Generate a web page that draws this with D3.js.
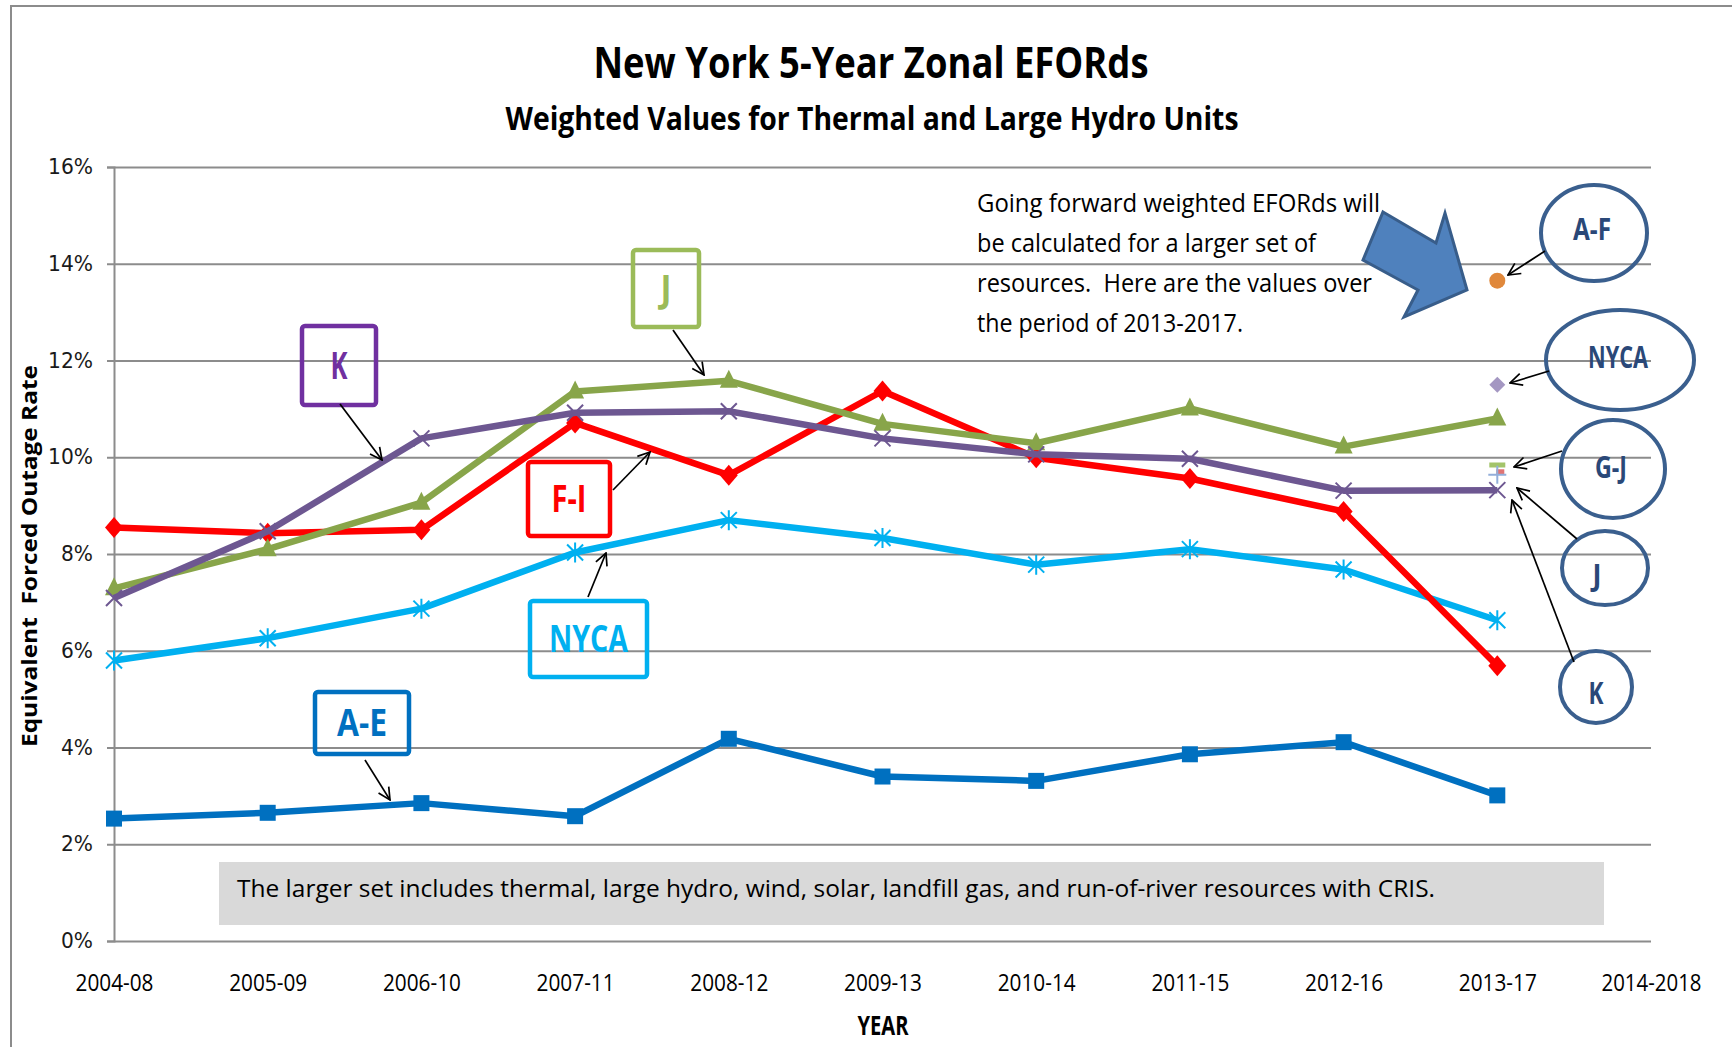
<!DOCTYPE html>
<html>
<head>
<meta charset="utf-8">
<script src="https://cdn.jsdelivr.net/npm/d3@7"></script>
<style>
  html, body { margin: 0; padding: 0; background: #fff; }
  svg { display: block; }
  text { white-space: pre; }
</style>
</head>
<body>
<script>
// chart data
const categories = ["2004-08", "2005-09", "2006-10", "2007-11", "2008-12", "2009-13",
                    "2010-14", "2011-15", "2012-16", "2013-17", "2014-2018"];
const yTicks = [0, 2, 4, 6, 8, 10, 12, 14, 16];
const aeValues = [2.53, 2.65, 2.85, 2.58, 4.18, 3.40, 3.31, 3.86, 4.11, 3.01];
const fiValues = [8.55, 8.43, 8.50, 10.71, 9.63, 11.37, 9.99, 9.56, 8.88, 5.69];
const jValues = [7.29, 8.10, 9.06, 11.36, 11.58, 10.69, 10.29, 11.01, 10.22, 10.80];
const kValues = [7.09, 8.47, 10.39, 10.92, 10.95, 10.39, 10.06, 9.97, 9.31, 9.32];
const nycaValues = [5.80, 6.26, 6.87, 8.03, 8.70, 8.33, 7.78, 8.10, 7.68, 6.63];
// larger resource set, 2013-17 only
const newSetNames = ["A-F", "NYCA", "G-J", "J", "K"];
const newSetValues = [13.65, 11.50, 9.84, 9.70, 9.64];

const width = 1732, height = 1047;
const svg = d3.select("body").append("svg")
    .attr("width", width)
    .attr("height", height)
    .style("background-color", "white");

const x = d3.scalePoint().domain(categories).range([114, 1651]);
const y = d3.scaleLinear().domain([0, 16]).range([941, 167]);

const calibri = "'Open Sans', 'DejaVu Sans', sans-serif";

// squeeze Open Sans to the narrow Calibri widths of the original
function label(px, py, str, size, weight, fill, len, anchor) {
    const t = svg.append("text")
        .attr("x", px).attr("y", py)
        .attr("font-family", calibri)
        .attr("font-size", size)
        .attr("font-weight", weight)
        .attr("fill", fill)
        .attr("text-anchor", anchor || "start")
        .text(str);
    if (len) t.attr("textLength", len).attr("lengthAdjust", "spacingAndGlyphs");
    return t;
}

// outer frame
svg.append("path")
    .attr("d", "M11,1047 V6 H1732")
    .attr("fill", "none")
    .attr("stroke", "#8c8c8c")
    .attr("stroke-width", 2);

// titles
label(871, 78, "New York 5-Year Zonal EFORds", 43, "bold", "#000", 555, "middle");
label(872, 130, "Weighted Values for Thermal and Large Hydro Units", 32, "bold", "#000", 733, "middle");

// gridlines
svg.append("g")
    .attr("transform", "translate(114,0)")
    .call(d3.axisLeft(y).tickValues(yTicks).tickSize(-(1651 - 114)).tickFormat(""))
    .call(g => g.select(".domain").remove())
    .selectAll("line")
    .attr("stroke", "#8c8c8c")
    .attr("stroke-width", 2);

// y axis
const yAxis = svg.append("g")
    .attr("transform", "translate(114,0)")
    .call(d3.axisLeft(y).tickValues(yTicks).tickSize(7).tickPadding(14).tickFormat(d => d + "%"));
yAxis.select(".domain").attr("stroke", "#8c8c8c").attr("stroke-width", 2);
yAxis.selectAll(".tick line").attr("stroke", "#8c8c8c").attr("stroke-width", 2);
yAxis.selectAll("text")
    .attr("font-family", "'DejaVu Sans', Verdana, sans-serif")
    .attr("font-size", 21)
    .attr("fill", "#1a1a1a")
    .attr("textLength", d => d >= 10 ? 45 : 32)
    .attr("lengthAdjust", "spacingAndGlyphs");

// x axis labels
const xAxis = svg.append("g")
    .attr("transform", "translate(0,941)")
    .call(d3.axisBottom(x).tickSize(0).tickPadding(34));
xAxis.select(".domain").remove();
xAxis.selectAll("text")
    .attr("font-family", calibri)
    .attr("font-size", 23)
    .attr("fill", "#000")
    .attr("textLength", d => d.length > 7 ? 100 : 78)
    .attr("lengthAdjust", "spacingAndGlyphs");

// axis titles
label(883, 1035, "YEAR", 26, "bold", "#000", 51, "middle");
label(0, 0, "Equivalent  Forced Outage Rate", 22, "bold", "#000", 382, "middle")
    .attr("transform", "translate(37,556) rotate(-90)");

// grey note box
svg.append("rect")
    .attr("x", 219).attr("y", 862)
    .attr("width", 1604 - 219).attr("height", 925 - 862)
    .attr("fill", "#d9d9d9");
label(237, 897, "The larger set includes thermal, large hydro, wind, solar, landfill gas, and run-of-river resources with CRIS.",
      23, "normal", "#000", 1198);

// series
const series = [
    { name: "A-E", values: aeValues, color: "#0070C0", marker: "square" },
    { name: "NYCA", values: nycaValues, color: "#00B0F0", marker: "asterisk" },
    { name: "F-I", values: fiValues, color: "#FF0000", marker: "diamond" },
    { name: "J", values: jValues, color: "#88A54A", marker: "triangle" },
    { name: "K", values: kValues, color: "#6D5791", marker: "x" }
];

const line = d3.line()
    .x((d, i) => x(categories[i]))
    .y(d => y(d));

function drawMarker(g, type, color) {
    if (type === "square") {
        g.append("rect").attr("x", -8).attr("y", -8).attr("width", 16).attr("height", 16).attr("fill", color);
    } else if (type === "diamond") {
        g.append("path").attr("d", "M0,-10.5 L9,0 L0,10.5 L-9,0Z").attr("fill", color);
    } else if (type === "triangle") {
        g.append("path").attr("d", "M0,-11 L9,7 L-9,7Z").attr("fill", color);
    } else if (type === "x") {
        g.append("path").attr("d", "M-8,-8 L8,8 M-8,8 L8,-8")
            .attr("stroke", color).attr("stroke-width", 2).attr("fill", "none");
    } else if (type === "asterisk") {
        g.append("path").attr("d", "M-8,-8 L8,8 M-8,8 L8,-8 M0,-10 L0,10")
            .attr("stroke", color).attr("stroke-width", 2).attr("fill", "none");
    } else if (type === "circle") {
        g.append("circle").attr("r", 8).attr("fill", color);
    } else if (type === "smallDiamond") {
        g.append("path").attr("d", "M0,-8 L8,0 L0,8 L-8,0Z").attr("fill", color);
    } else if (type === "dash") {
        g.append("rect").attr("x", -8).attr("y", -2.5).attr("width", 16).attr("height", 5).attr("fill", color);
    } else if (type === "shortDash") {
        g.append("rect").attr("x", -1).attr("y", -2.5).attr("width", 8).attr("height", 5).attr("fill", color);
    } else if (type === "plus") {
        g.append("path").attr("d", "M-9,0 L9,0 M0,-9 L0,9")
            .attr("stroke", color).attr("stroke-width", 2).attr("fill", "none");
    }
}

series.forEach(s => {
    svg.append("path")
        .datum(s.values)
        .attr("d", line)
        .attr("fill", "none")
        .attr("stroke", s.color)
        .attr("stroke-width", 6.5)
        .attr("stroke-linejoin", "round");
    s.values.forEach((v, i) => {
        const g = svg.append("g").attr("transform", `translate(${x(categories[i])},${y(v)})`);
        drawMarker(g, s.marker, s.color);
    });
});

// single 2013-17 points for the larger set
const newSetStyle = {
    "A-F": { color: "#E0883B", marker: "circle" },
    "NYCA": { color: "#A497C2", marker: "smallDiamond" },
    "G-J": { color: "#A3C46A", marker: "dash" },
    "J": { color: "#E07474", marker: "shortDash" },
    "K": { color: "#93AEDA", marker: "plus" }
};
newSetNames.forEach((n, i) => {
    const g = svg.append("g").attr("transform", `translate(${x("2013-17")},${y(newSetValues[i])})`);
    drawMarker(g, newSetStyle[n].marker, newSetStyle[n].color);
});

// arrowheads
svg.append("defs").append("marker")
    .attr("id", "open")
    .attr("viewBox", "0 0 14 14")
    .attr("refX", 13).attr("refY", 7)
    .attr("markerWidth", 14).attr("markerHeight", 14)
    .attr("markerUnits", "userSpaceOnUse")
    .attr("orient", "auto")
    .append("path")
    .attr("d", "M1,1 L13,7 L1,13")
    .attr("fill", "none")
    .attr("stroke", "#000")
    .attr("stroke-width", 1.7);

function pointer(x1, y1, x2, y2) {
    svg.append("line")
        .attr("x1", x1).attr("y1", y1).attr("x2", x2).attr("y2", y2)
        .attr("stroke", "#000").attr("stroke-width", 1.7)
        .attr("marker-end", "url(#open)");
}

// boxed series labels
const boxes = [
    { text: "K", x0: 302, y0: 326, x1: 376, y1: 405, color: "#7030A0", len: 17, ax: [340, 404, 382, 460] },
    { text: "J", x0: 633, y0: 250, x1: 699, y1: 327, color: "#9BBB59", len: 11, ax: [673, 330, 704, 375] },
    { text: "F-I", x0: 528, y0: 462, x1: 610, y1: 536, color: "#FF0000", len: 35, ax: [613, 490, 650, 452] },
    { text: "NYCA", x0: 530, y0: 601, x1: 647, y1: 677, color: "#00B0F0", len: 79, ax: [588, 597, 606, 553] },
    { text: "A-E", x0: 315, y0: 692, x1: 409, y1: 754, color: "#0070C0", len: 50, ax: [365, 760, 390, 800] }
];
boxes.forEach(b => {
    svg.append("rect")
        .attr("x", b.x0).attr("y", b.y0)
        .attr("width", b.x1 - b.x0).attr("height", b.y1 - b.y0)
        .attr("rx", 3)
        .attr("fill", "none")
        .attr("stroke", b.color)
        .attr("stroke-width", 4.5);
    label((b.x0 + b.x1) / 2, (b.y0 + b.y1) / 2 + 13, b.text, 37, "bold", b.color, b.len, "middle");
    pointer(...b.ax);
});

// note text
const note = ["Going forward weighted EFORds will", "be calculated for a larger set of",
              "resources.  Here are the values over", "the period of 2013-2017."];
const noteLen = [403, 339, 395, 266];
note.forEach((t, i) => label(977, 212 + i * 40, t, 26, "normal", "#000", noteLen[i]));

// big block arrow
svg.append("polygon")
    .attr("points", "1383,212 1436,243 1445,213 1467,290 1404,317 1418,290 1363,260")
    .attr("fill", "#4F81BD")
    .attr("stroke", "#385D8A")
    .attr("stroke-width", 3)
    .attr("stroke-linejoin", "miter");

// ellipse callouts
const ellipses = [
    { text: "A-F", cx: 1594, cy: 233, rx: 53, ry: 48, tx: 1592, ty: 229, len: 38, ax: [1545, 251, 1508, 275] },
    { text: "NYCA", cx: 1620, cy: 360, rx: 74, ry: 50, tx: 1618, ty: 357, len: 60, ax: [1549, 371, 1510, 383] },
    { text: "G-J", cx: 1613, cy: 469, rx: 52, ry: 49, tx: 1611, ty: 467, len: 32, ax: [1562, 451, 1514, 467] },
    { text: "J", cx: 1605, cy: 568, rx: 43, ry: 37, tx: 1597, ty: 575, len: 9, ax: [1577, 539, 1517, 488] },
    { text: "K", cx: 1596, cy: 687, rx: 36, ry: 36, tx: 1596, ty: 693, len: 15, ax: [1574, 662, 1512, 500] }
];
ellipses.forEach(e => {
    svg.append("ellipse")
        .attr("cx", e.cx).attr("cy", e.cy).attr("rx", e.rx).attr("ry", e.ry)
        .attr("fill", "none")
        .attr("stroke", "#3A5F8E")
        .attr("stroke-width", 4);
    label(e.tx, e.ty + 11, e.text, 30, "bold", "#2A4878", e.len, "middle");
    pointer(...e.ax);
});
</script>
</body>
</html>
